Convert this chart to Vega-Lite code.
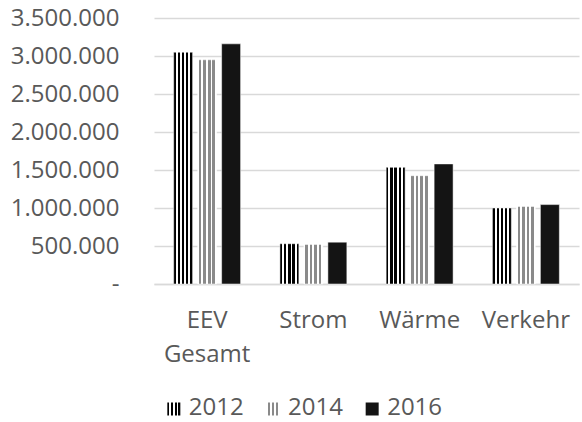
{
  "$schema": "https://vega.github.io/schema/vega-lite/v6.json",
  "autosize": {"type": "pad"},
  "padding": {"left": 10, "top": 6, "right": 2, "bottom": 0},
  "background": "white",
  "bounds": "flush",
  "spacing": 112,
  "datasets": {
    "energy": [
      {"cat": "EEV Gesamt", "year": "2012", "value": 3050000},
      {"cat": "EEV Gesamt", "year": "2014", "value": 2950000},
      {"cat": "EEV Gesamt", "year": "2016", "value": 3160000},
      {"cat": "Strom", "year": "2012", "value": 530000},
      {"cat": "Strom", "year": "2014", "value": 520000},
      {"cat": "Strom", "year": "2016", "value": 550000},
      {"cat": "Wärme", "year": "2012", "value": 1535000},
      {"cat": "Wärme", "year": "2014", "value": 1425000},
      {"cat": "Wärme", "year": "2016", "value": 1580000},
      {"cat": "Verkehr", "year": "2012", "value": 1000000},
      {"cat": "Verkehr", "year": "2014", "value": 1020000},
      {"cat": "Verkehr", "year": "2016", "value": 1045000}
    ],
    "years": [
      {"year": "2012"},
      {"year": "2014"},
      {"year": "2016"}
    ]
  },
  "vconcat": [
    {
      "width": 425,
      "height": 266,
      "data": {"name": "energy"},
      "mark": {"type": "bar", "stroke": "#ffffff", "strokeWidth": 0.5},
      "encoding": {
        "x": {
          "field": "cat",
          "type": "nominal",
          "sort": ["EEV Gesamt", "Strom", "Wärme", "Verkehr"],
          "scale": {"paddingInner": 0.37, "paddingOuter": 0.185},
          "axis": {
            "title": null,
            "labelAngle": 0,
            "ticks": false,
            "domain": true,
            "domainColor": "#d9d9d9",
            "domainWidth": 1.5,
            "labelPadding": 24,
            "labelLineHeight": 34,
            "labelExpr": "split(datum.label, ' ')"
          }
        },
        "xOffset": {
          "field": "year",
          "type": "nominal",
          "scale": {"paddingInner": 0.21, "paddingOuter": 0}
        },
        "y": {
          "field": "value",
          "type": "quantitative",
          "scale": {"domain": [0, 3500000]},
          "axis": {
            "title": null,
            "values": [0, 500000, 1000000, 1500000, 2000000, 2500000, 3000000, 3500000],
            "format": ",d",
            "labelExpr": "datum.value === 0 ? '-  ' : datum.label",
            "ticks": false,
            "domain": false,
            "grid": true,
            "gridColor": "#d9d9d9",
            "gridWidth": 1.5,
            "labelPadding": 35
          }
        },
        "fill": {
          "condition": [
            {"test": "datum.year === '2012'", "value": {"gradient": "linear", "x1": 0, "y1": 0, "x2": 1, "y2": 0, "stops": [
              {"offset": 0, "color": "#000"}, {"offset": 0.12, "color": "#000"},
              {"offset": 0.12, "color": "#fff"}, {"offset": 0.22, "color": "#fff"},
              {"offset": 0.22, "color": "#000"}, {"offset": 0.34, "color": "#000"},
              {"offset": 0.34, "color": "#fff"}, {"offset": 0.44, "color": "#fff"},
              {"offset": 0.44, "color": "#000"}, {"offset": 0.56, "color": "#000"},
              {"offset": 0.56, "color": "#fff"}, {"offset": 0.66, "color": "#fff"},
              {"offset": 0.66, "color": "#000"}, {"offset": 0.78, "color": "#000"},
              {"offset": 0.78, "color": "#fff"}, {"offset": 0.88, "color": "#fff"},
              {"offset": 0.88, "color": "#000"}, {"offset": 1, "color": "#000"}
            ]}},
            {"test": "datum.year === '2014'", "value": {"gradient": "linear", "x1": 0, "y1": 0, "x2": 1, "y2": 0, "stops": [
              {"offset": 0, "color": "#fff"}, {"offset": 0.06, "color": "#fff"},
              {"offset": 0.06, "color": "#8a8a8a"}, {"offset": 0.2, "color": "#8a8a8a"},
              {"offset": 0.2, "color": "#fff"}, {"offset": 0.3, "color": "#fff"},
              {"offset": 0.3, "color": "#8a8a8a"}, {"offset": 0.44, "color": "#8a8a8a"},
              {"offset": 0.44, "color": "#fff"}, {"offset": 0.54, "color": "#fff"},
              {"offset": 0.54, "color": "#8a8a8a"}, {"offset": 0.68, "color": "#8a8a8a"},
              {"offset": 0.68, "color": "#fff"}, {"offset": 0.78, "color": "#fff"},
              {"offset": 0.78, "color": "#8a8a8a"}, {"offset": 0.92, "color": "#8a8a8a"},
              {"offset": 0.92, "color": "#fff"}, {"offset": 1, "color": "#fff"}
            ]}}
          ],
          "value": "#141414"
        }
      }
    },
    {
      "width": 238,
      "height": 26,
      "data": {"name": "years"},
      "encoding": {
        "x": {
          "field": "year",
          "type": "nominal",
          "scale": {"type": "point", "padding": 0.2},
          "axis": null
        }
      },
      "layer": [
        {
          "mark": {"type": "square", "size": 169, "filled": true, "opacity": 1},
          "encoding": {
            "fill": {
              "condition": [
                {"test": "datum.year === '2012'", "value": {"gradient": "linear", "x1": 0, "y1": 0, "x2": 1, "y2": 0, "stops": [
                  {"offset": 0, "color": "#000"}, {"offset": 0.15, "color": "#000"},
                  {"offset": 0.15, "color": "#fff"}, {"offset": 0.28, "color": "#fff"},
                  {"offset": 0.28, "color": "#000"}, {"offset": 0.43, "color": "#000"},
                  {"offset": 0.43, "color": "#fff"}, {"offset": 0.56, "color": "#fff"},
                  {"offset": 0.56, "color": "#000"}, {"offset": 0.71, "color": "#000"},
                  {"offset": 0.71, "color": "#fff"}, {"offset": 0.84, "color": "#fff"},
                  {"offset": 0.84, "color": "#000"}, {"offset": 1, "color": "#000"}
                ]}},
                {"test": "datum.year === '2014'", "value": {"gradient": "linear", "x1": 0, "y1": 0, "x2": 1, "y2": 0, "stops": [
                  {"offset": 0, "color": "#fff"}, {"offset": 0.08, "color": "#fff"},
                  {"offset": 0.08, "color": "#8a8a8a"}, {"offset": 0.26, "color": "#8a8a8a"},
                  {"offset": 0.26, "color": "#fff"}, {"offset": 0.4, "color": "#fff"},
                  {"offset": 0.4, "color": "#8a8a8a"}, {"offset": 0.58, "color": "#8a8a8a"},
                  {"offset": 0.58, "color": "#fff"}, {"offset": 0.72, "color": "#fff"},
                  {"offset": 0.72, "color": "#8a8a8a"}, {"offset": 0.9, "color": "#8a8a8a"},
                  {"offset": 0.9, "color": "#fff"}, {"offset": 1, "color": "#fff"}
                ]}}
              ],
              "value": "#141414"
            }
          }
        },
        {
          "mark": {"type": "text", "align": "left", "baseline": "middle", "dx": 15, "dy": -1, "fontSize": 24, "color": "#595959", "font": "Open Sans"},
          "encoding": {
            "text": {"field": "year", "type": "nominal"}
          }
        }
      ]
    }
  ],
  "config": {
    "font": "Open Sans",
    "view": {"stroke": null},
    "locale": {"number": {"decimal": ",", "thousands": ".", "grouping": [3], "currency": ["", " €"]}},
    "axis": {"labelFontSize": 24, "labelColor": "#595959", "labelFont": "Open Sans"}
  }
}
